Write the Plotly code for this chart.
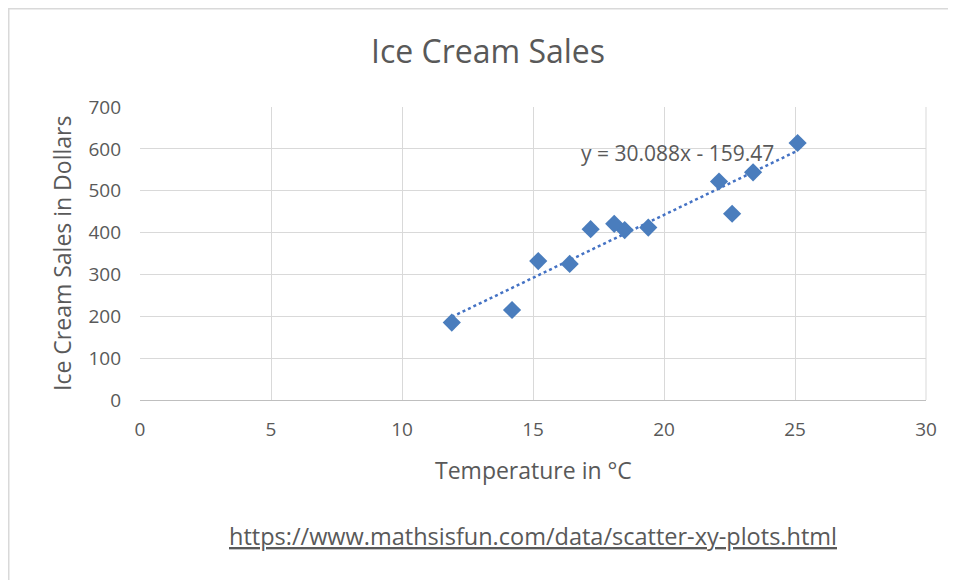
import numpy as np
import plotly.graph_objects as go

temperature = [14.2, 16.4, 11.9, 15.2, 18.5, 22.1, 19.4, 25.1, 23.4, 18.1, 22.6, 17.2]
sales = [215, 325, 185, 332, 406, 522, 412, 614, 544, 421, 445, 408]
x_ticks = [0, 5, 10, 15, 20, 25, 30]
y_ticks = [0, 100, 200, 300, 400, 500, 600, 700]

slope, intercept = np.polyfit(temperature, sales, 1)
tx = [min(temperature), max(temperature)]
ty = [slope * v + intercept for v in tx]

FONT = "Open Sans, Liberation Sans, sans-serif"
TXT = "#595959"
OFF = 8  # page body margin
W, H = 956 - OFF, 580 - OFF
# target screen coords of plot area: left 140, right 926, top 107, bottom 400
L, T = 140 - OFF, 107 - OFF
R = W - (926 - OFF)
B = H - (400 - OFF)
pw, ph = W - L - R, H - T - B

def px(sx):
    return (sx - OFF - L) / pw

def py(sy):
    return (H - B - (sy - OFF)) / ph

fig = go.Figure()
fig.add_trace(go.Scatter(x=tx, y=ty, mode="lines",
                         line=dict(color="#4472C4", width=2.5, dash="dot"),
                         hoverinfo="skip", showlegend=False))
fig.add_trace(go.Scatter(x=temperature, y=sales, mode="markers",
                         marker=dict(symbol="diamond", size=14, color="#4a7dbd"),
                         showlegend=False))

fig.update_layout(
    width=W, height=H,
    margin=dict(l=L, r=R, t=T, b=B),
    paper_bgcolor="white", plot_bgcolor="white",
    font=dict(family=FONT, color=TXT, size=19),
    title=dict(text="Ice Cream Sales", xref="container", x=(488 - OFF) / W, xanchor="center",
               yref="container", y=1 - (52 - OFF) / H, yanchor="middle",
               font=dict(size=32, color=TXT, family=FONT)),
    xaxis=dict(range=[0, 30], tickvals=x_ticks, showgrid=True, gridcolor="#d9d9d9",
               gridwidth=1, zeroline=False, showline=True, linecolor="#bfbfbf",
               ticks="", tickfont=dict(size=19, color=TXT), fixedrange=True,
               ticklabelstandoff=12),
    yaxis=dict(range=[0, 700], tickvals=y_ticks, showgrid=True, gridcolor="#d9d9d9",
               gridwidth=1, zeroline=False, showline=False,
               ticks="", tickfont=dict(size=19, color=TXT), fixedrange=True,
               ticklabelstandoff=18),
    shapes=[
        dict(type="rect", xref="paper", yref="paper",
             x0=px(OFF + 0.75), x1=px(2000), y0=py(2000), y1=py(OFF + 0.75),
             line=dict(color="#d9d9d9", width=1.5), layer="below"),
        dict(type="line", xref="paper", yref="paper",
             x0=1, x1=1, y0=0, y1=1, line=dict(color="#d9d9d9", width=1)),
    ],
    annotations=[
        dict(text=f"y = {slope:.3f}x - {abs(intercept):.2f}", xref="x", yref="y",
             x=20.5, y=590, showarrow=False, xanchor="center", yanchor="middle",
             font=dict(size=21, color=TXT)),
        dict(text="Temperature in °C", xref="paper", yref="paper",
             x=px(533), y=py(470), showarrow=False, xanchor="center", yanchor="middle",
             font=dict(size=23, color=TXT)),
        dict(text="Ice Cream Sales in Dollars", xref="paper", yref="paper",
             x=px(62), y=py(254), showarrow=False, xanchor="center", yanchor="middle",
             textangle=-90, font=dict(size=23, color=TXT)),
        dict(text="<u>https://www.mathsisfun.com/data/scatter-xy-plots.html</u>",
             xref="paper", yref="paper", x=px(533), y=py(536),
             showarrow=False, xanchor="center", yanchor="middle",
             font=dict(size=23.5, color=TXT)),
    ],
)

fig.write_html("out.html")
